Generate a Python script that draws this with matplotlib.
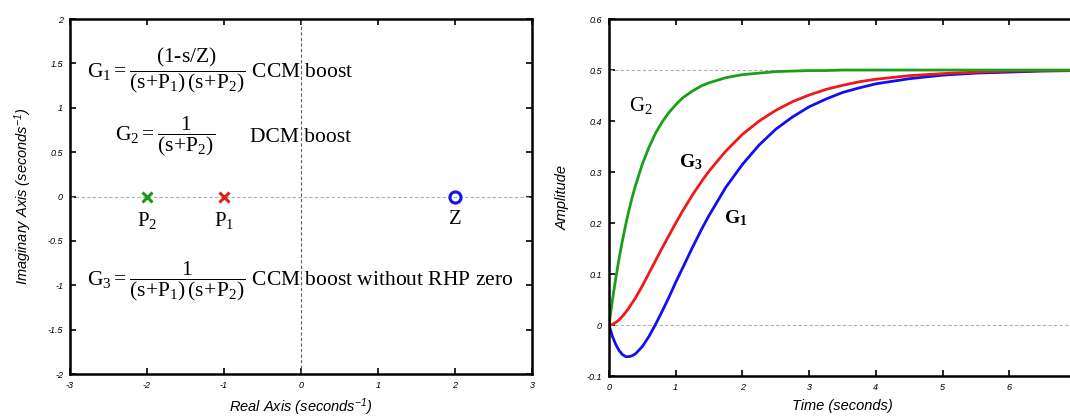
"""Pole-zero map and step responses of the boost converter transfer functions."""

import matplotlib
matplotlib.use("Agg")
import matplotlib.pyplot as plt
import matplotlib.ticker as mticker

plt.rcParams["mathtext.fontset"] = "custom"
plt.rcParams["mathtext.rm"] = "Liberation Serif"
plt.rcParams["mathtext.it"] = "Liberation Serif:italic"
plt.rcParams["mathtext.bf"] = "Liberation Serif:bold"

# --- pole-zero data ---
pole_labels = ["P$_2$", "P$_1$"]
pole_re = [-2.0, -1.0]
pole_im = [0.0, 0.0]
pole_colors = ["#1a9a1a", "#e0201a"]
zero_re = [2.0]
zero_im = [0.0]

# --- step responses ---
time = [0, 0.05, 0.1, 0.15, 0.2, 0.25, 0.3, 0.35, 0.4, 0.5, 0.6, 0.7, 0.8, 0.9,
        1.0, 1.1, 1.25, 1.4, 1.5, 1.75, 2.0, 2.25, 2.5, 2.75, 3.0, 3.25, 3.5,
        3.75, 4.0, 4.5, 5.0, 5.5, 6.0, 6.5, 7.0]
g1 = [0, -0.022, -0.038, -0.050, -0.058, -0.062, -0.062, -0.060, -0.056,
      -0.042, -0.022, 0.002, 0.028, 0.055, 0.084, 0.111, 0.152, 0.191, 0.215,
      0.270, 0.315, 0.353, 0.384, 0.408, 0.428, 0.443, 0.456, 0.465, 0.473,
      0.483, 0.490, 0.494, 0.496, 0.498, 0.499]
g2 = [0, 0.048, 0.091, 0.130, 0.165, 0.197, 0.226, 0.252, 0.275, 0.316, 0.349,
      0.377, 0.399, 0.417, 0.432, 0.445, 0.459, 0.470, 0.475, 0.485, 0.491,
      0.494, 0.497, 0.498, 0.499, 0.499, 0.5, 0.5, 0.5, 0.5, 0.5, 0.5, 0.5,
      0.5, 0.5]
g3 = [0, 0.001, 0.005, 0.010, 0.017, 0.025, 0.034, 0.044, 0.054, 0.077, 0.102,
      0.127, 0.152, 0.176, 0.200, 0.223, 0.255, 0.284, 0.302, 0.341, 0.374,
      0.400, 0.421, 0.438, 0.451, 0.462, 0.470, 0.477, 0.482, 0.489, 0.493,
      0.496, 0.498, 0.499, 0.499]

BLUE = "#1010f0"
RED = "#f01818"
GREEN = "#18a018"
SERIF = "Liberation Serif"
SANS = "Liberation Sans"
EQ_SIZE = 15.5


def _style(ax, hide_last_x=False):
    for sp in ax.spines.values():
        sp.set_linewidth(1.8)
    ax.tick_params(direction="in", top=True, right=True, length=4, width=1.2,
                   labelsize=6.5, pad=5)
    xmax = ax.get_xlim()[1]
    ax.xaxis.set_major_formatter(mticker.FuncFormatter(
        lambda v, _: "" if hide_last_x and v >= xmax else f"{v:g}"))
    ax.yaxis.set_major_formatter(mticker.FuncFormatter(lambda v, _: f"{v:g}"))
    for lab in ax.get_xticklabels() + ax.get_yticklabels():
        lab.set_fontstyle("italic")
        lab.set_fontfamily(SANS)


fig = plt.figure(figsize=(10.7, 4.17), dpi=100)

# --- left: pole-zero map ---
ax1 = fig.add_axes([0.0654, 0.1031, 0.4318, 0.851])
ax1.axhline(0, color="#b0b0b0", ls="--", lw=0.8, dashes=(3, 2))
ax1.axvline(0, color="#606060", ls="--", lw=0.8, dashes=(3, 2))
for x, y, c, lab in zip(pole_re, pole_im, pole_colors, pole_labels):
    ax1.plot(x, y, marker="x", color=c, ms=7, mew=2.2, ls="none")
    ax1.text(x, y - 0.27, lab, ha="center", va="center", fontsize=15, family=SERIF)
ax1.plot(zero_re, zero_im, marker="o", mfc="none", mec=BLUE, ms=8, mew=2.2, ls="none")
ax1.text(zero_re[0], zero_im[0] - 0.26, "Z", ha="center", va="center", fontsize=15, family=SERIF)

ax1.text(-2.78, 1.42,
         r"$\mathrm{G_1 = \dfrac{(1\text{-}s/Z)}{(s\!+\!P_1)\,(s\!+\!P_2)}}$ CCM boost",
         ha="left", va="center", fontsize=EQ_SIZE, family=SERIF)
ax1.text(-2.42, 0.685, r"$\mathrm{G_2 = \dfrac{1}{(s\!+\!P_2)}}$",
         ha="left", va="center", fontsize=EQ_SIZE, family=SERIF)
ax1.text(-0.66, 0.67, "DCM boost", ha="left", va="center", fontsize=EQ_SIZE, family=SERIF)
ax1.text(-2.78, -0.95,
         r"$\mathrm{G_3 = \dfrac{1}{(s\!+\!P_1)\,(s\!+\!P_2)}}$ CCM boost without RHP zero",
         ha="left", va="center", fontsize=EQ_SIZE, family=SERIF)

ax1.set_xlim(-3, 3)
ax1.set_ylim(-2, 2)
ax1.set_xticks(range(-3, 4))
ax1.set_yticks([-2, -1.5, -1, -0.5, 0, 0.5, 1, 1.5, 2])
ax1.set_xlabel(r"Real Axis (seconds$\mathregular{^{-1}}$)", fontsize=10.5,
               fontstyle="italic", family=SANS, labelpad=5)
ax1.set_ylabel(r"Imaginary Axis (seconds$\mathregular{^{-1}}$)", fontsize=10.5,
               fontstyle="italic", family=SANS, labelpad=10)
_style(ax1)

# --- right: step responses ---
ax2 = fig.add_axes([0.5692, 0.0983, 0.4364, 0.856])
ax2.axhline(0.5, color="#b0b0b0", ls="--", lw=0.8, dashes=(3, 2))
ax2.axhline(0, color="#b0b0b0", ls="--", lw=0.8, dashes=(3, 2))
ax2.plot(time, g1, color=BLUE, lw=2)
ax2.plot(time, g3, color=RED, lw=2)
ax2.plot(time, g2, color=GREEN, lw=2)
ax2.text(0.48, 0.43, r"$\mathrm{G_2}$", ha="center", va="center", fontsize=15)
ax2.text(1.22, 0.32, r"$\mathbf{G_3}$", ha="center", va="center", fontsize=14)
ax2.text(1.9, 0.21, r"$\mathbf{G_1}$", ha="center", va="center", fontsize=14)

ax2.set_xlim(0, 7)
ax2.set_ylim(-0.1, 0.6)
ax2.set_xticks(range(0, 8))
ax2.set_yticks([-0.1, 0, 0.1, 0.2, 0.3, 0.4, 0.5, 0.6])
ax2.set_xlabel("Time (seconds)", fontsize=10.5, fontstyle="italic", family=SANS, labelpad=5)
ax2.set_ylabel("Amplitude", fontsize=10.5, fontstyle="italic", family=SANS, labelpad=12)
_style(ax2, hide_last_x=True)

fig.savefig("out.png", dpi=100)
